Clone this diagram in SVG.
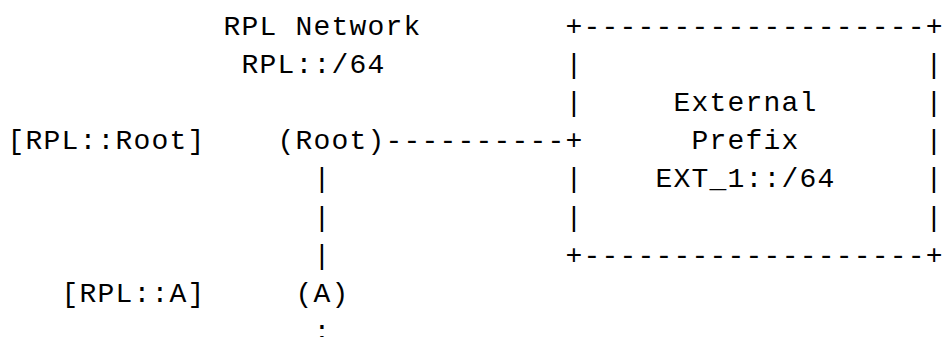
<svg xmlns="http://www.w3.org/2000/svg" width="942" height="337" viewBox="0 0 942 337">
<style>
text{font-family:"Liberation Mono","DejaVu Sans Mono",monospace;font-size:28px;letter-spacing:1.2px;fill:#000;white-space:pre}
</style>
<rect width="942" height="337" fill="#fff"/>
<g id="network-label">
<text x="223.6" y="35">RPL Network</text>
<text x="241.6" y="73.1">RPL::/64</text>
</g>
<g id="root-label"><text x="7.6" y="149.3">[RPL::Root]</text></g>
<g id="root"><text x="277.6" y="149.3">(Root)</text></g>
<g id="a-label"><text x="61.6" y="301.7">[RPL::A]</text></g>
<g id="node-a"><text x="295.6" y="301.7">(A)</text></g>
<g id="external-prefix">
<text x="565.6" y="35">+-------------------+</text>
<text x="565.6" y="73.1">|</text><text x="925.6" y="73.1">|</text>
<text x="565.6" y="111.2">|</text><text x="925.6" y="111.2">|</text>
<text x="925.6" y="149.3">|</text>
<text x="565.6" y="187.4">|</text><text x="925.6" y="187.4">|</text>
<text x="565.6" y="225.5">|</text><text x="925.6" y="225.5">|</text>
<text x="565.6" y="263.6">+-------------------+</text>
<text x="673.6" y="111.2">External</text>
<text x="691.6" y="149.3">Prefix</text>
<text x="655.6" y="187.4">EXT_1::/64</text>
</g>
<g id="connectors">
<text x="385.6" y="149.3">----------+</text>
<text x="313.6" y="187.4">|</text>
<text x="313.6" y="225.5">|</text>
<text x="313.6" y="263.6">|</text>
<text x="313.6" y="339.8">:</text>
</g>
</svg>
